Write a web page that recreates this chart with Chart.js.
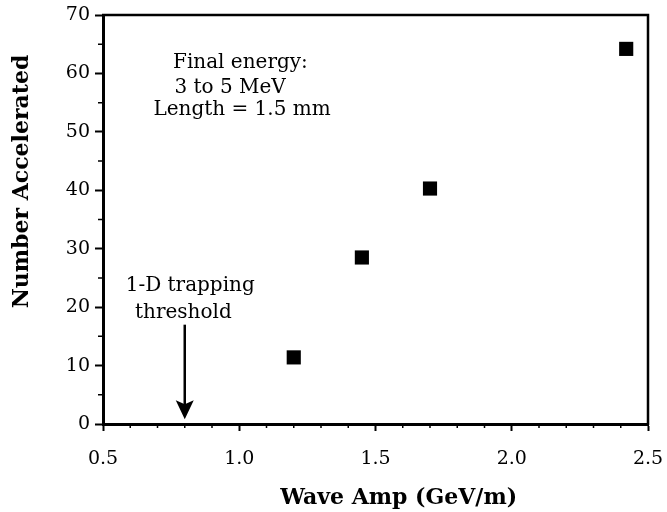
<!DOCTYPE html>
<html>
<head>
    <title>Number Accelerated vs Wave Amp</title>
    <script src="https://cdn.jsdelivr.net/npm/chart.js"></script>
    <style>
        body { margin: 0; background: #fff; }
        #wrap { width: 667px; height: 512px; }
    </style>
</head>
<body>
<div id="wrap"><canvas id="chart" width="667" height="512"></canvas></div>

<script>
    // data
    var waveAmp = [1.20, 1.45, 1.70, 2.42];
    var numAccel = [11.4, 28.5, 40.3, 64.2];

    var xTickLabels = ['0.5', '1.0', '1.5', '2.0', '2.5'];
    var yTickLabels = ['0', '10', '20', '30', '40', '50', '60', '70'];

    var xTitle = 'Wave Amp (GeV/m)';
    var yTitle = 'Number Accelerated';
    var noteLines = ['Final energy:', '3 to 5 MeV', 'Length = 1.5 mm'];
    var thresholdLines = ['1-D trapping', 'threshold'];
    var thresholdValue = 0.8;

    var serif = "'DejaVu Serif', serif";

    // draws the extra bits: frame, minor ticks, titles, notes, arrow
    var overlay = {
        id: 'overlay',
        afterDraw: function (chart) {
            var ctx = chart.ctx;
            var a = chart.chartArea;
            var x = chart.scales.x;
            var y = chart.scales.y;
            ctx.save();
            ctx.strokeStyle = '#000';
            ctx.fillStyle = '#000';

            // top and right border
            ctx.lineWidth = 2.5;
            ctx.beginPath();
            ctx.moveTo(a.left - 1, a.top);
            ctx.lineTo(a.right, a.top);
            ctx.lineTo(a.right, a.bottom + 1);
            ctx.stroke();

            // minor ticks
            ctx.lineWidth = 1.5;
            ctx.beginPath();
            for (var i = 6; i < 25; i++) {
                if (i % 5 === 0) continue;
                var px = x.getPixelForValue(i / 10);
                ctx.moveTo(px, a.bottom);
                ctx.lineTo(px, a.bottom + 4);
            }
            for (var j = 5; j < 70; j += 10) {
                var py = y.getPixelForValue(j);
                ctx.moveTo(a.left, py);
                ctx.lineTo(a.left - 5, py);
            }
            ctx.stroke();

            // axis titles
            ctx.font = 'bold 22px ' + serif;
            ctx.textAlign = 'center';
            ctx.textBaseline = 'middle';
            ctx.fillText(xTitle, x.getPixelForValue(1.585), 498);
            ctx.save();
            ctx.translate(22, y.getPixelForValue(41.5));
            ctx.rotate(-Math.PI / 2);
            ctx.fillText(yTitle, 0, 0);
            ctx.restore();

            // notes
            ctx.font = '20px ' + serif;
            ctx.textAlign = 'left';
            ctx.fillText(noteLines[0], x.getPixelForValue(0.757), y.getPixelForValue(61.8));
            ctx.fillText(noteLines[1], x.getPixelForValue(0.762), y.getPixelForValue(57.6));
            ctx.fillText(noteLines[2], x.getPixelForValue(0.685), y.getPixelForValue(53.7));

            ctx.textAlign = 'center';
            ctx.fillText(thresholdLines[0], x.getPixelForValue(0.82), y.getPixelForValue(23.7));
            ctx.fillText(thresholdLines[1], x.getPixelForValue(0.795), y.getPixelForValue(19.1));

            // arrow down to threshold
            var ax = x.getPixelForValue(thresholdValue);
            var top = y.getPixelForValue(17);
            var tip = y.getPixelForValue(0.8);
            ctx.lineWidth = 2.5;
            ctx.beginPath();
            ctx.moveTo(ax, top);
            ctx.lineTo(ax, tip - 12);
            ctx.stroke();
            ctx.beginPath();
            ctx.moveTo(ax, tip);
            ctx.lineTo(ax - 9, tip - 19);
            ctx.lineTo(ax, tip - 15);
            ctx.lineTo(ax + 9, tip - 19);
            ctx.closePath();
            ctx.fill();
            ctx.restore();
        }
    };

    var ctx = document.getElementById('chart').getContext('2d');
    var chart = new Chart(ctx, {
        type: 'scatter',
        data: {
            datasets: [{
                data: waveAmp.map(function (v, i) { return { x: v, y: numAccel[i] }; }),
                pointStyle: 'rect',
                pointRadius: 10,
                pointHoverRadius: 10,
                backgroundColor: '#000',
                borderColor: '#000',
                borderWidth: 0
            }]
        },
        options: {
            responsive: false,
            animation: false,
            layout: { padding: { top: 15, right: 19, left: 0, bottom: 0 } },
            plugins: {
                legend: { display: false },
                tooltip: { enabled: false }
            },
            scales: {
                x: {
                    type: 'linear',
                    min: 0.5,
                    max: 2.5,
                    afterFit: function (s) {
                        s.height = 88;
                        s.paddingLeft = 0;
                        s.paddingRight = 0;
                    },
                    ticks: {
                        stepSize: 0.5,
                        color: '#000',
                        padding: 17,
                        maxRotation: 0,
                        font: { family: serif, size: 19 },
                        callback: function (v) {
                            return xTickLabels[Math.round((v - 0.5) / 0.5)];
                        }
                    },
                    grid: {
                        drawOnChartArea: false,
                        drawTicks: true,
                        tickLength: 7,
                        tickColor: '#000',
                        tickWidth: 2
                    },
                    border: { color: '#000', width: 3 }
                },
                y: {
                    min: 0,
                    max: 70,
                    afterFit: function (s) {
                        s.width = 103;
                        s.paddingTop = 0;
                        s.paddingBottom = 0;
                    },
                    ticks: {
                        stepSize: 10,
                        color: '#000',
                        padding: 5,
                        font: { family: serif, size: 19 },
                        callback: function (v) {
                            return yTickLabels[Math.round(v / 10)];
                        }
                    },
                    grid: {
                        drawOnChartArea: false,
                        drawTicks: true,
                        tickLength: 8,
                        tickColor: '#000',
                        tickWidth: 2
                    },
                    border: { color: '#000', width: 3 }
                }
            }
        },
        plugins: [overlay]
    });
</script>
</body>
</html>
